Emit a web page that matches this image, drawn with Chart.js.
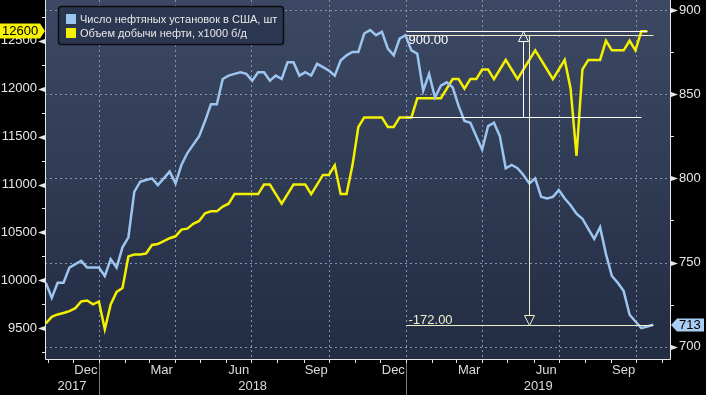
<!DOCTYPE html>
<html lang="ru">
<head>
<meta charset="utf-8">
<title>Rigs vs crude output</title>
<script src="https://cdn.jsdelivr.net/npm/chart.js@4.4.1/dist/chart.umd.min.js"></script>
<style>
  html, body { margin: 0; padding: 0; background: #000; overflow: hidden; }
  canvas { display: block; }
</style>
</head>
<body>
<canvas id="rigChart" width="706" height="395"></canvas>
<script>
// weekly points; the first one sits at 30 Oct 2017 (x = days counted from 1 Jan 2018)
const firstWeekDay = -63;

const seriesNames = ['Число нефтяных установок в США, шт', 'Объем добычи нефти, x1000 б/д'];

// rig count (right axis)
const rigCount = [
  738, 729, 738, 738, 747, 749, 751, 747, 747, 747,
  742, 752, 747, 759, 765, 792, 798, 799, 800, 796,
  800, 804, 797, 808, 815, 820, 825, 834, 844, 844,
  859, 861, 862, 863, 862, 858, 863, 863, 858, 861,
  859, 869, 869, 861, 863, 861, 868, 866, 864, 861,
  870, 873, 875, 875, 886, 888, 885, 887, 877, 873,
  883, 885, 876, 874, 852, 862, 848, 855, 857, 854,
  843, 834, 833, 825, 817, 831, 833, 825, 806, 808,
  806, 802, 797, 800, 789, 788, 789, 793, 788, 784,
  779, 776, 770, 764, 771, 755, 742, 738, 733, 719,
  715, 711, 712, 713
];

// crude output, x1000 b/d (left axis)
const oilOutput = [
  9550, 9620, 9645, 9660, 9680, 9710, 9780, 9790, 9750, 9780,
  9490, 9750, 9880, 9920, 10250, 10270, 10270, 10280, 10370, 10380,
  10410, 10440, 10460, 10530, 10540, 10590, 10620, 10700, 10720, 10720,
  10770, 10800, 10900, 10900, 10900, 10900, 10900, 11000, 11000, 10900,
  10800, 10900, 11000, 11000, 11000, 10900, 11000, 11100, 11100, 11200,
  10900, 10900, 11200, 11600, 11700, 11700, 11700, 11700, 11600, 11600,
  11700, 11700, 11700, 11900, 11900, 11900, 11900, 11900, 12000, 12100,
  12100, 12000, 12100, 12100, 12200, 12200, 12100, 12200, 12300, 12200,
  12100, 12200, 12300, 12400, 12300, 12200, 12100, 12200, 12300, 12000,
  11300, 12200, 12300, 12300, 12300, 12500, 12400, 12400, 12400, 12500,
  12400, 12600, 12600
];

const leftTicks = [9500, 10000, 10500, 11000, 11500, 12000, 12500];
const rightTicks = [700, 750, 800, 850, 900];
const monthLabels = [
  ['Dec', 2017, 11], ['Mar', 2018, 2], ['Jun', 2018, 5], ['Sep', 2018, 8],
  ['Dec', 2018, 11], ['Mar', 2019, 2], ['Jun', 2019, 5], ['Sep', 2019, 8]
];
const yearLabels = [2017, 2018, 2019];

// measuring tools drawn over the chart (week indexes and values)
const oilMeasure = { start: 61, end: 102, endLow: 101, at: 81, from: 11700, to: 12600, text: '900.00' };
const rigMeasure = { start: 61, end: 103, at: 82, from: 885, to: 713, text: '-172.00' };

const FONT = '"Liberation Sans", Arial, sans-serif';
const GRID = '#8893ad';
const BLUE = '#9cc5f0';
const YELLOW = '#f3f000';
const CREAM = '#efecc8';

const dayOf = (y, m) => Math.round((Date.UTC(y, m, 1) - Date.UTC(2018, 0, 1)) / 864e5);
const weekDay = i => firstWeekDay + 7 * i;

const monthStarts = [];
for (let y = 2017; y <= 2019; y++) {
  for (let m = 0; m < 12; m++) {
    const d = dayOf(y, m);
    if (d >= -62 && d <= 676) monthStarts.push({ day: d, m: m });
  }
}
const quarterDays = monthStarts.filter(t => t.m % 3 === 0).map(t => t.day);

Chart.defaults.font.family = FONT;

const decor = {
  id: 'decor',
  beforeDraw(chart) {
    const { ctx, chartArea: a } = chart;
    ctx.save();
    ctx.fillStyle = '#000';
    ctx.fillRect(0, 0, chart.width, chart.height);
    const g = ctx.createLinearGradient(0, a.top, 0, a.bottom);
    g.addColorStop(0, '#3d4964');
    g.addColorStop(1, '#222c43');
    ctx.fillStyle = g;
    ctx.fillRect(a.left, a.top, a.right - a.left, a.bottom - a.top);
    ctx.restore();
  },

  beforeDatasetsDraw(chart) {
    // dotted grid: right axis values and quarter starts
    const { ctx, chartArea: a, scales } = chart;
    ctx.save();
    ctx.strokeStyle = GRID;
    ctx.lineWidth = 1;
    ctx.setLineDash([2, 3]);
    ctx.beginPath();
    rightTicks.forEach(v => {
      const y = Math.round(scales.yRight.getPixelForValue(v)) + 0.5;
      ctx.moveTo(a.left, y); ctx.lineTo(a.right, y);
    });
    quarterDays.forEach(d => {
      const xp = Math.round(scales.x.getPixelForValue(d)) + 0.5;
      ctx.moveTo(xp, a.top); ctx.lineTo(xp, a.bottom);
    });
    ctx.stroke();
    ctx.restore();
  },

  afterDatasetsDraw(chart) {
    const { ctx, scales } = chart;
    const x = scales.x, yl = scales.yLeft, yr = scales.yRight;
    const px = i => Math.round(x.getPixelForValue(weekDay(i))) + 0.5;
    const py = (s, v) => Math.round(s.getPixelForValue(v)) + 0.5;
    ctx.save();
    ctx.lineWidth = 1;

    // oil output measure (white)
    const oTop = py(yl, oilMeasure.to), oLow = py(yl, oilMeasure.from), oX = px(oilMeasure.at);
    ctx.strokeStyle = '#ffffff';
    ctx.beginPath();
    ctx.moveTo(px(oilMeasure.start), oTop); ctx.lineTo(px(oilMeasure.end), oTop);
    ctx.moveTo(px(oilMeasure.start), oLow); ctx.lineTo(px(oilMeasure.endLow), oLow);
    ctx.moveTo(oX, oLow); ctx.lineTo(oX, oTop + 10);
    ctx.stroke();
    ctx.beginPath();
    ctx.moveTo(oX, oTop); ctx.lineTo(oX + 5, oTop + 10); ctx.lineTo(oX - 5, oTop + 10); ctx.closePath();
    ctx.stroke();
    ctx.fillStyle = '#ffffff';
    ctx.font = '13px ' + FONT;
    ctx.textBaseline = 'top';
    ctx.fillText(oilMeasure.text, px(oilMeasure.start) + 2, oTop + 2);

    // rig count measure (cream)
    const rTop = py(yr, rigMeasure.from), rLow = py(yr, rigMeasure.to), rX = px(rigMeasure.at);
    ctx.strokeStyle = CREAM;
    ctx.beginPath();
    ctx.moveTo(px(rigMeasure.start), rTop); ctx.lineTo(px(rigMeasure.end), rTop);
    ctx.moveTo(px(rigMeasure.start), rLow); ctx.lineTo(px(rigMeasure.end), rLow);
    ctx.moveTo(rX, rTop); ctx.lineTo(rX, rLow - 10);
    ctx.stroke();
    ctx.beginPath();
    ctx.moveTo(rX, rLow); ctx.lineTo(rX + 5, rLow - 10); ctx.lineTo(rX - 5, rLow - 10); ctx.closePath();
    ctx.stroke();
    ctx.fillStyle = CREAM;
    ctx.textBaseline = 'alphabetic';
    ctx.fillText(rigMeasure.text, px(rigMeasure.start) + 2, rLow - 2);
    ctx.restore();
  },

  afterDraw(chart) {
    const { ctx, chartArea: a, scales } = chart;
    const x = scales.x, yl = scales.yLeft, yr = scales.yRight;
    ctx.save();

    // axis lines
    ctx.strokeStyle = '#e6e6e6';
    ctx.lineWidth = 1;
    ctx.beginPath();
    ctx.moveTo(a.left + 0.5, a.top); ctx.lineTo(a.left + 0.5, a.bottom + 0.5);
    ctx.lineTo(a.right + 0.5, a.bottom + 0.5); ctx.lineTo(a.right + 0.5, a.top);
    ctx.stroke();

    // y tick marks
    ctx.fillStyle = '#e6e6e6';
    for (let v = 9250; v <= 12750; v += 250) {
      const y = Math.round(yl.getPixelForValue(v)) + 0.5;
      if (v % 500 === 0) {
        ctx.beginPath();
        ctx.moveTo(a.left, y - 2.5); ctx.lineTo(a.left - 7, y); ctx.lineTo(a.left, y + 2.5);
        ctx.fill();
      } else {
        ctx.beginPath(); ctx.moveTo(a.left - 3, y); ctx.lineTo(a.left, y); ctx.stroke();
      }
    }
    for (let v = 700; v <= 900; v += 25) {
      const y = Math.round(yr.getPixelForValue(v)) + 0.5;
      if (v % 50 === 0) {
        ctx.beginPath();
        ctx.moveTo(a.right + 1, y - 2.5); ctx.lineTo(a.right + 8, y); ctx.lineTo(a.right + 1, y + 2.5);
        ctx.fill();
      } else {
        ctx.beginPath(); ctx.moveTo(a.right, y); ctx.lineTo(a.right + 4, y); ctx.stroke();
      }
    }

    // x tick marks, month and year labels
    monthStarts.forEach(t => {
      const xp = Math.round(x.getPixelForValue(t.day)) + 0.5;
      ctx.beginPath(); ctx.moveTo(xp, a.bottom); ctx.lineTo(xp, a.bottom + 4); ctx.stroke();
    });
    ctx.font = '13px ' + FONT;
    ctx.textAlign = 'center';
    ctx.textBaseline = 'middle';
    ctx.fillStyle = '#dcdcdc';
    monthLabels.forEach(([name, y, m]) => {
      const x0 = x.getPixelForValue(dayOf(y, m));
      const x1 = x.getPixelForValue(dayOf(y, m + 1));
      ctx.fillText(name, (x0 + x1) / 2, a.bottom + 11);
    });
    yearLabels.forEach(yr0 => {
      const x0 = Math.max(a.left, x.getPixelForValue(dayOf(yr0, 0)));
      const x1 = Math.min(a.right, x.getPixelForValue(dayOf(yr0 + 1, 0)));
      ctx.fillText(String(yr0), (x0 + x1) / 2, a.bottom + 27);
      if (yr0 > yearLabels[0]) {
        ctx.strokeStyle = '#7a7a7a';
        ctx.beginPath(); ctx.moveTo(Math.round(x0) + 0.5, a.bottom + 4); ctx.lineTo(Math.round(x0) + 0.5, chart.height); ctx.stroke();
      }
    });

    // legend
    ctx.fillStyle = '#2b3650';
    ctx.strokeStyle = '#0c0c0c';
    ctx.lineWidth = 1.5;
    ctx.beginPath();
    ctx.roundRect(58.5, 6.5, 225, 38, 3);
    ctx.fill(); ctx.stroke();
    const items = [[seriesNames[0], BLUE], [seriesNames[1], YELLOW]];
    ctx.font = '11px ' + FONT;
    ctx.textAlign = 'left';
    items.forEach(([label, color], k) => {
      const yy = 14 + k * 14;
      ctx.fillStyle = color;
      ctx.fillRect(66, yy, 10, 10);
      ctx.fillStyle = '#e8e8e8';
      ctx.fillText(label, 80, yy + 5.5);
    });

    // last value tags
    const lastOil = oilOutput[oilOutput.length - 1];
    const yo = Math.round(yl.getPixelForValue(lastOil));
    ctx.fillStyle = '#f6f300';
    ctx.beginPath();
    ctx.moveTo(0, yo - 7.5); ctx.lineTo(40, yo - 7.5); ctx.lineTo(45, yo);
    ctx.lineTo(40, yo + 7.5); ctx.lineTo(0, yo + 7.5); ctx.closePath();
    ctx.fill();
    ctx.fillStyle = '#000';
    ctx.font = '13px ' + FONT;
    ctx.fillText(String(lastOil), 2, yo + 0.5);

    const lastRig = rigCount[rigCount.length - 1];
    const yb = Math.round(yr.getPixelForValue(lastRig));
    ctx.fillStyle = '#a9cdf3';
    ctx.beginPath();
    ctx.moveTo(a.right + 1, yb); ctx.lineTo(a.right + 7, yb - 6.5); ctx.lineTo(704, yb - 6.5);
    ctx.lineTo(704, yb + 6.5); ctx.lineTo(a.right + 7, yb + 6.5); ctx.closePath();
    ctx.fill();
    ctx.fillStyle = '#000';
    ctx.fillText(String(lastRig), a.right + 9, yb + 0.5);
    ctx.restore();
  }
};

const noPad = s => { s.paddingTop = 0; s.paddingBottom = 0; s.paddingLeft = 0; s.paddingRight = 0; };

new Chart(document.getElementById('rigChart'), {
  type: 'line',
  data: {
    datasets: [
      {
        label: seriesNames[0],
        data: rigCount.map((v, i) => ({ x: weekDay(i), y: v })),
        yAxisID: 'yRight',
        borderColor: BLUE,
        borderWidth: 2.5,
        pointRadius: 0,
        tension: 0
      },
      {
        label: seriesNames[1],
        data: oilOutput.map((v, i) => ({ x: weekDay(i), y: v })),
        yAxisID: 'yLeft',
        borderColor: YELLOW,
        borderWidth: 2.5,
        pointRadius: 0,
        tension: 0
      }
    ]
  },
  options: {
    responsive: false,
    animation: false,
    layout: { padding: 0 },
    plugins: { legend: { display: false }, tooltip: { enabled: false } },
    scales: {
      x: {
        type: 'linear',
        min: -64,
        max: 678,
        afterBuildTicks: s => { s.ticks = quarterDays.map(d => ({ value: d })); },
        afterFit: s => { s.height = 36; noPad(s); },
        ticks: { display: false },
        grid: { display: false },
        border: { display: false }
      },
      yLeft: {
        position: 'left',
        min: 9180,
        max: 12925,
        afterBuildTicks: s => { s.ticks = leftTicks.map(v => ({ value: v })); },
        afterFit: s => { s.width = 45; noPad(s); },
        ticks: { color: '#e6e6e6', font: { size: 13 }, padding: 8, callback: v => String(v) },
        grid: { display: false, drawTicks: false },
        border: { display: false }
      },
      yRight: {
        position: 'right',
        min: 692.7,
        max: 905.9,
        afterBuildTicks: s => { s.ticks = rightTicks.map(v => ({ value: v })); },
        afterFit: s => { s.width = 36; noPad(s); },
        ticks: { color: '#e6e6e6', font: { size: 13 }, padding: 9, callback: v => String(v) },
        grid: { display: false, drawTicks: false },
        border: { display: false }
      }
    }
  },
  plugins: [decor]
});
</script>
</body>
</html>
